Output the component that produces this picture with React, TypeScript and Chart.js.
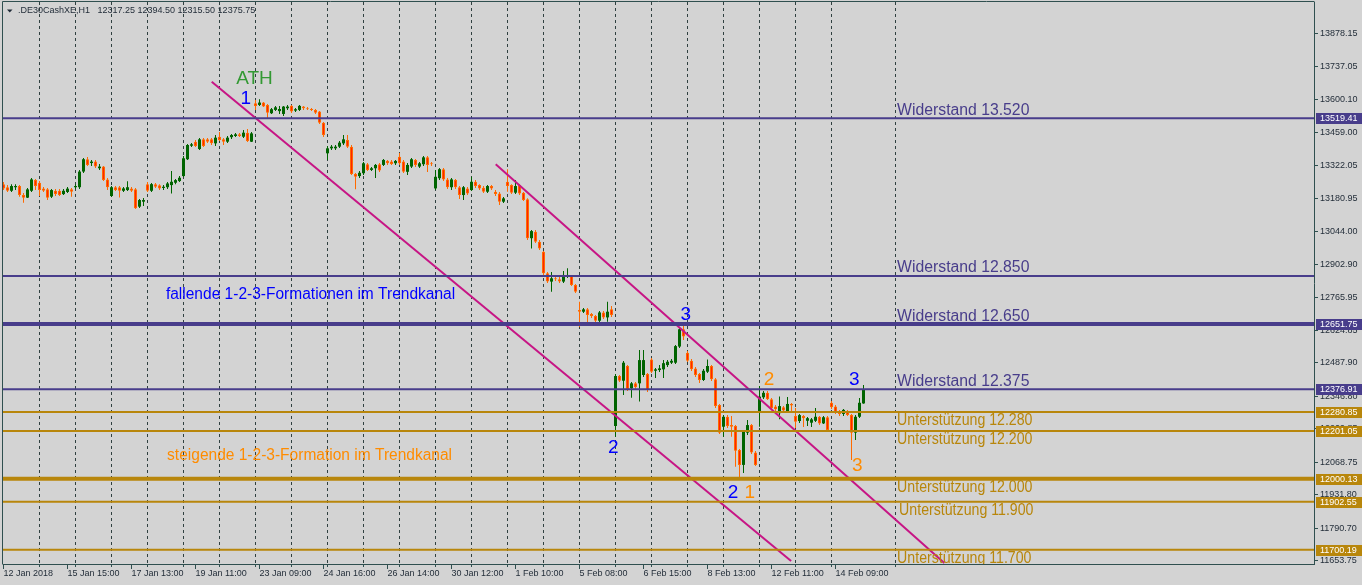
import React, { useEffect, useRef } from 'react';
import { Chart, registerables } from 'chart.js';

Chart.register(...registerables);

// ---------------- data ----------------
const OPEN = [
  13242, 13229, 13214, 13229, 13234, 13196, 13185, 13214, 13259, 13248,
  13224, 13220, 13189, 13214, 13214, 13200, 13209, 13220, 13229, 13229,
  13295, 13347, 13331, 13337, 13309, 13316, 13262, 13192, 13229, 13229,
  13214, 13217, 13224, 13220, 13147, 13168, 13242, 13214, 13242, 13237,
  13226, 13229, 13238, 13248, 13255, 13276, 13347, 13404, 13421, 13390,
  13431, 13431, 13431, 13414, 13442, 13431, 13421, 13440, 13445, 13452,
  13442, 13459, 13421, 13583, 13576, 13586, 13576, 13541, 13555, 13550,
  13538, 13562, 13573, 13552, 13555, 13569, 13562, 13558, 13555, 13548,
  13501, 13372, 13393, 13393, 13400, 13414, 13428, 13400, 13285, 13276,
  13288, 13326, 13302, 13309, 13326, 13323, 13341, 13337, 13330, 13358,
  13337, 13294, 13316, 13344, 13316, 13326, 13355, 13330, 13224, 13267,
  13305, 13262, 13229, 13259, 13229, 13196, 13224, 13217, 13252, 13238,
  13227, 13210, 13234, 13210, 13203, 13168, 13252, 13238, 13206, 13238,
  13206, 13178, 13014, 13041, 12999, 12957, 12866, 12831, 12845, 12841,
  12831, 12852, 12855, 12817, 12711, 12704, 12714, 12694, 12686, 12666,
  12701, 12680, 12714, 12222, 12433, 12413, 12475, 12381, 12402, 12402,
  12437, 12441, 12503, 12455, 12458, 12461, 12479, 12489, 12489, 12557,
  12630, 12531, 12497, 12465, 12441, 12416, 12451, 12475, 12419, 12311,
  12219, 12261, 12226, 12222, 12121, 12058, 12194, 12226, 12110, 12278,
  12343, 12362, 12335, 12304, 12276, 12301, 12282, 12315, 12264, 12243,
  12264, 12244, 12236, 12244, 12261, 12233, 12259, 12320, 12304, 12282,
  12273, 12282, 12268, 12194, 12261, 12317.25,
];
const HIGH = [
  13251, 13238, 13242, 13242, 13238, 13205, 13226, 13268, 13264, 13255,
  13230, 13226, 13221, 13221, 13221, 13221, 13230, 13226, 13242, 13302,
  13352, 13356, 13344, 13344, 13327, 13318, 13268, 13234, 13234, 13234,
  13230, 13254, 13230, 13226, 13179, 13184, 13251, 13247, 13247, 13242,
  13238, 13251, 13297, 13264, 13276, 13361, 13411, 13415, 13428, 13437,
  13437, 13437, 13437, 13449, 13462, 13437, 13445, 13453, 13458, 13458,
  13470, 13475, 13462, 13597, 13600, 13588, 13580, 13563, 13572, 13572,
  13572, 13576, 13576, 13563, 13576, 13572, 13567, 13563, 13559, 13550,
  13504, 13403, 13407, 13407, 13424, 13449, 13449, 13407, 13289, 13297,
  13335, 13331, 13314, 13327, 13331, 13348, 13344, 13344, 13344, 13373,
  13344, 13331, 13352, 13348, 13335, 13361, 13361, 13335, 13302, 13310,
  13310, 13268, 13268, 13264, 13234, 13234, 13230, 13273, 13259, 13242,
  13234, 13238, 13238, 13217, 13209, 13188, 13305, 13242, 13259, 13242,
  13209, 13183, 13049, 13049, 13006, 12960, 12871, 12871, 12859, 12855,
  12876, 12887, 12859, 12821, 12746, 12720, 12720, 12699, 12690, 12707,
  12707, 12746, 12728, 12441, 12437, 12496, 12479, 12408, 12408, 12543,
  12543, 12446, 12509, 12467, 12479, 12500, 12500, 12505, 12564, 12635,
  12658, 12538, 12505, 12471, 12446, 12462, 12503, 12479, 12425, 12315,
  12268, 12268, 12264, 12226, 12125, 12205, 12247, 12231, 12117, 12391,
  12370, 12370, 12340, 12311, 12346, 12306, 12344, 12319, 12298, 12273,
  12268, 12260, 12256, 12298, 12264, 12264, 12264, 12328, 12311, 12290,
  12294, 12290, 12273, 12268, 12340, 12394.5,
];
const LOW = [
  13217, 13209, 13209, 13217, 13189, 13164, 13184, 13209, 13217, 13192,
  13209, 13175, 13184, 13192, 13192, 13196, 13205, 13189, 13221, 13221,
  13289, 13318, 13318, 13310, 13302, 13255, 13217, 13188, 13213, 13186,
  13209, 13213, 13209, 13137, 13141, 13150, 13209, 13209, 13226, 13217,
  13217, 13221, 13203, 13242, 13251, 13272, 13344, 13399, 13399, 13386,
  13399, 13415, 13407, 13403, 13424, 13407, 13415, 13432, 13441, 13441,
  13437, 13420, 13420, 13555, 13572, 13567, 13520, 13538, 13550, 13538,
  13529, 13555, 13542, 13546, 13550, 13555, 13555, 13550, 13538, 13496,
  13441, 13344, 13386, 13386, 13394, 13407, 13394, 13281, 13220, 13268,
  13281, 13297, 13297, 13268, 13293, 13318, 13323, 13323, 13323, 13323,
  13289, 13281, 13310, 13314, 13310, 13318, 13293, 13318, 13217, 13259,
  13255, 13221, 13217, 13221, 13179, 13175, 13196, 13213, 13226, 13217,
  13205, 13205, 13217, 13192, 13154, 13162, 13210, 13200, 13200, 13196,
  13171, 13006, 12971, 12994, 12964, 12859, 12825, 12788, 12834, 12825,
  12825, 12846, 12812, 12783, 12640, 12699, 12656, 12677, 12656, 12661,
  12673, 12662, 12682, 12177, 12408, 12353, 12370, 12341, 12378, 12325,
  12429, 12365, 12446, 12425, 12450, 12425, 12471, 12484, 12484, 12551,
  12585, 12492, 12454, 12429, 12403, 12412, 12446, 12412, 12298, 12188,
  12177, 12214, 12177, 12050, 12002, 12024, 12184, 12104, 12053, 12219,
  12336, 12332, 12290, 12281, 12250, 12281, 12277, 12277, 12214, 12235,
  12218, 12222, 12218, 12239, 12226, 12231, 12201, 12294, 12273, 12264,
  12264, 12264, 12079, 12163, 12256, 12315.5,
];
const CLOSE = [
  13224, 13214, 13234, 13234, 13196, 13185, 13220, 13262, 13234, 13217,
  13214, 13185, 13217, 13200, 13196, 13214, 13223, 13210, 13234, 13295,
  13347, 13323, 13337, 13316, 13316, 13259, 13229, 13229, 13217, 13214,
  13224, 13229, 13214, 13140, 13175, 13175, 13214, 13242, 13231, 13224,
  13231, 13245, 13252, 13259, 13269, 13351, 13407, 13410, 13403, 13431,
  13403, 13421, 13414, 13438, 13428, 13421, 13438, 13449, 13452, 13445,
  13459, 13424, 13456, 13572, 13586, 13569, 13543, 13558, 13566, 13559,
  13569, 13569, 13548, 13558, 13572, 13562, 13558, 13555, 13543, 13501,
  13449, 13393, 13400, 13400, 13417, 13431, 13400, 13285, 13273, 13290,
  13330, 13302, 13309, 13323, 13299, 13344, 13330, 13327, 13340, 13330,
  13294, 13323, 13347, 13323, 13330, 13355, 13323, 13326, 13273, 13305,
  13262, 13229, 13262, 13229, 13196, 13229, 13203, 13252, 13234, 13224,
  13210, 13234, 13224, 13200, 13168, 13182, 13234, 13206, 13234, 13203,
  13175, 13014, 13044, 12999, 12971, 12866, 12831, 12845, 12841, 12831,
  12859, 12859, 12817, 12788, 12704, 12714, 12690, 12686, 12666, 12701,
  12680, 12704, 12690, 12433, 12413, 12489, 12377, 12402, 12385, 12500,
  12500, 12374, 12451, 12461, 12465, 12487, 12493, 12497, 12559, 12630,
  12599, 12497, 12461, 12437, 12416, 12455, 12475, 12419, 12306, 12194,
  12261, 12222, 12219, 12118, 12058, 12198, 12226, 12110, 12058, 12346,
  12362, 12335, 12297, 12293, 12306, 12287, 12315, 12308, 12240, 12268,
  12255, 12255, 12250, 12261, 12233, 12259, 12205, 12301, 12278, 12273,
  12290, 12268, 12194, 12261, 12320, 12375.75,
];

const Y_TICKS = [
  13878.15, 13737.05, 13600.1, 13459.0, 13322.05, 13180.95, 13044.0, 12902.9, 12765.95,
  12624.85, 12487.9, 12346.8, 12209.85, 12068.75, 11931.8, 11790.7, 11653.75,
];
const X_TICK_INDEX = [0, 16, 32, 48, 64, 80, 96, 112, 128, 144, 160, 176, 192, 208];
const X_TICK_LABELS = [
  '12 Jan 2018', '15 Jan 15:00', '17 Jan 13:00', '19 Jan 11:00', '23 Jan 09:00', '24 Jan 16:00',
  '26 Jan 14:00', '30 Jan 12:00', '1 Feb 10:00', '5 Feb 08:00', '6 Feb 15:00', '8 Feb 13:00',
  '12 Feb 11:00', '14 Feb 09:00',
];
const GRID_INDEX = [
  9, 18, 27, 36, 45, 54, 63, 72, 81, 90, 99, 108, 117, 126, 135, 144, 153, 162, 171, 180,
  189, 198, 207, 223,
];

const LEVEL_VALUES = [13519.41, 12855, 12651.75, 12376.91, 12280.85, 12201.05, 12000.13, 11902.55, 11700.19];
const LEVEL_LABELS = [
  'Widerstand 13.520', 'Widerstand 12.850', 'Widerstand 12.650', 'Widerstand 12.375',
  'Unterstützung 12.280', 'Unterstützung 12.200', 'Unterstützung 12.000', 'Unterstützung 11.900',
  'Unterstützung 11.700',
];
const LEVEL_IS_SUPPORT = [false, false, false, false, true, true, true, true, true];
const LEVEL_HAS_TAG = [true, false, true, true, true, true, true, true, true];
const LEVEL_LABEL_X = [223.4, 223.4, 223.4, 223.4, 223.4, 223.4, 223.4, 223.9, 223.4];

const TREND_FROM_X = [52.05, 123.05];
const TREND_FROM_Y = [13674.0, 13325.6];
const TREND_TO_X = [196.9, 235.2];
const TREND_TO_Y = [11652.8, 11644.3];

const MARK_TEXT = ['ATH', '1', '3', '2', '2', '1', '2', '3', '3'];
const MARK_X = [62.75, 60.6, 170.55, 152.45, 182.4, 186.6, 191.4, 212.7, 213.45];
const MARK_Y = [13666.4, 13582.0, 12668.6, 12106.1, 11919.3, 11919.3, 12394.5, 12394.5, 12031.9];
const MARK_KIND = ['ath', 'down', 'down', 'down', 'down', 'up', 'up', 'down', 'up'];

const NOTE_TEXT = ['fallende 1-2-3-Formationen im Trendkanal', 'steigende 1-2-3-Formation im Trendkanal'];
const NOTE_X = [40.6, 40.9];
const NOTE_Y = [12756.4, 12078.7];
const NOTE_KIND = ['down', 'up'];

const TITLE_NAME = '.DE30CashXE,H1';
const TITLE_VALUES = [12317.25, 12394.5, 12315.5, 12375.75];

// ---------------- styles ----------------
const X_MIN = -0.125;
const X_MAX = 327.625;
const Y_MIN = 11640.1;
const Y_MAX = 14010.1;
const BG = '#d3d3d3';
const FRAME = '#2f4f4f';
const GRID = '#304040';
const TEXT = '#1f2a36';
const BULL = '#006400';
const BEAR_FILL = '#ff2400';
const BEAR_EDGE = '#ff6a00';
const RES = '#483d8b';
const SUP = '#b8860b';
const TREND = '#c71585';
const BLUE = '#0000ff';
const ORANGE = '#ff8c00';
const ATH_GREEN = '#339933';
const FONT = '"Liberation Sans", Arial, sans-serif';
const THICK_LEVEL = [false, false, true, false, false, false, true, false, false];

const isBull = (i: number) => CLOSE[i] >= OPEN[i];

const mt4Plugin = {
  id: 'mt4Decor',
  beforeDraw(chart: any) {
    const { ctx } = chart;
    ctx.save();
    ctx.fillStyle = BG;
    ctx.fillRect(0, 0, chart.width, chart.height);
    ctx.restore();
  },
  afterDatasetsDraw(chart: any) {
    const { ctx, chartArea: a } = chart;
    const xs = chart.scales.x;
    const ys = chart.scales.y;
    ctx.save();
    ctx.beginPath();
    ctx.rect(a.left, a.top, a.right - a.left, a.bottom - a.top);
    ctx.clip();
    ctx.textBaseline = 'alphabetic';
    ctx.textAlign = 'left';
    ctx.font = `16px ${FONT}`;
    LEVEL_LABELS.forEach((t, i) => {
      const py = ys.getPixelForValue(LEVEL_VALUES[i]);
      const px = xs.getPixelForValue(LEVEL_LABEL_X[i]);
      const sup = LEVEL_IS_SUPPORT[i];
      ctx.fillStyle = sup ? SUP : RES;
      const w = ctx.measureText(t).width;
      ctx.fillText(t, px, sup ? py + 13 : py - 3.5, w * (sup ? 0.885 : 0.985));
    });
    NOTE_TEXT.forEach((t, i) => {
      ctx.fillStyle = NOTE_KIND[i] === 'down' ? BLUE : ORANGE;
      const w = ctx.measureText(t).width;
      ctx.fillText(t, xs.getPixelForValue(NOTE_X[i]), ys.getPixelForValue(NOTE_Y[i]), w * 0.97);
    });
    ctx.font = `19px ${FONT}`;
    ctx.textAlign = 'center';
    MARK_TEXT.forEach((t, i) => {
      const k = MARK_KIND[i];
      ctx.fillStyle = k === 'ath' ? ATH_GREEN : k === 'down' ? BLUE : ORANGE;
      ctx.fillText(t, xs.getPixelForValue(MARK_X[i]), ys.getPixelForValue(MARK_Y[i]));
    });
    ctx.restore();
  },
  afterDraw(chart: any) {
    const { ctx, chartArea: a } = chart;
    const ys = chart.scales.y;
    ctx.save();
    // frame (left + top)
    ctx.strokeStyle = FRAME;
    ctx.lineWidth = 1;
    ctx.beginPath();
    ctx.moveTo(a.left - 0.5, a.bottom + 0.5);
    ctx.lineTo(a.left - 0.5, a.top - 0.5);
    ctx.lineTo(a.right + 0.5, a.top - 0.5);
    ctx.stroke();
    // price tags on the axis
    ctx.font = `9px ${FONT}`;
    ctx.textBaseline = 'middle';
    ctx.textAlign = 'left';
    LEVEL_VALUES.forEach((v, i) => {
      if (!LEVEL_HAS_TAG[i]) return;
      const py = Math.round(ys.getPixelForValue(v));
      ctx.fillStyle = LEVEL_IS_SUPPORT[i] ? SUP : RES;
      ctx.fillRect(a.right + 2, py - 5, chart.width - a.right - 2, 11);
      ctx.fillStyle = '#ffffff';
      ctx.fillText(v.toFixed(2), a.right + 6, py + 0.5);
    });
    // title
    ctx.fillStyle = TEXT;
    ctx.beginPath();
    ctx.moveTo(7, 9.5);
    ctx.lineTo(12.5, 9.5);
    ctx.lineTo(9.75, 12.5);
    ctx.closePath();
    ctx.fill();
    ctx.fillText(TITLE_NAME, 18, 11);
    ctx.fillText(TITLE_VALUES.map((v) => v.toFixed(2)).join(' '), 97.5, 11);
    ctx.restore();
  },
};

export default function App() {
  const ref = useRef<HTMLCanvasElement>(null);

  useEffect(() => {
    document.body.style.margin = '0';
    document.body.style.background = BG;
    const idx = OPEN.map((_, i) => i);

    const levelSets = LEVEL_VALUES.map((v, i) => ({
      type: 'line' as const,
      data: [{ x: X_MIN, y: v }, { x: X_MAX, y: v }],
      borderColor: LEVEL_IS_SUPPORT[i] ? SUP : RES,
      borderWidth: THICK_LEVEL[i] ? 4 : 2,
      pointRadius: 0,
      order: 0,
    }));
    const trendSets = TREND_FROM_X.map((x0, i) => ({
      type: 'line' as const,
      data: [{ x: x0, y: TREND_FROM_Y[i] }, { x: TREND_TO_X[i], y: TREND_TO_Y[i] }],
      borderColor: TREND,
      borderWidth: 2,
      pointRadius: 0,
      order: 0,
    }));

    const chart = new Chart(ref.current as HTMLCanvasElement, {
      type: 'bar',
      data: {
        datasets: [
          ...levelSets,
          ...trendSets,
          {
            type: 'bar',
            data: idx.map((i) => ({ x: i, y: [OPEN[i], CLOSE[i]] })) as any,
            barThickness: 3,
            grouped: false,
            minBarLength: 1,
            inflateAmount: 0,
            borderSkipped: false,
            backgroundColor: (c: any) => (isBull(c.dataIndex ?? 0) ? BULL : BEAR_FILL),
            borderColor: (c: any) => (isBull(c.dataIndex ?? 0) ? BULL : BEAR_EDGE),
            borderWidth: (c: any) => (isBull(c.dataIndex ?? 0) ? 0 : 1),
            order: 1,
          } as any,
          {
            type: 'bar',
            data: idx.map((i) => ({ x: i, y: [LOW[i], HIGH[i]] })) as any,
            barThickness: 1,
            grouped: false,
            minBarLength: 1,
            inflateAmount: 0,
            borderWidth: 0,
            backgroundColor: (c: any) => (isBull(c.dataIndex ?? 0) ? BULL : BEAR_EDGE),
            order: 2,
          } as any,
        ],
      },
      options: {
        responsive: false,
        maintainAspectRatio: false,
        animation: false,
        devicePixelRatio: 1,
        events: [],
        layout: { padding: { left: 3, top: 2, right: 0, bottom: 0 } },
        plugins: { legend: { display: false }, tooltip: { enabled: false } },
        scales: {
          x2: {
            type: 'linear',
            position: 'bottom',
            weight: -1,
            min: X_MIN,
            max: X_MAX,
            offset: false,
            afterBuildTicks: (s: any) => {
              s.ticks = GRID_INDEX.map((v) => ({ value: v }));
            },
            afterFit: (s: any) => {
              s.height = 0;
              s.paddingLeft = 0;
              s.paddingRight = 0;
            },
            ticks: { display: false, autoSkip: false },
            grid: {
              offset: false,
              drawOnChartArea: true,
              drawTicks: true,
              tickLength: 3,
              color: GRID,
              tickColor: FRAME,
              lineWidth: 1,
            },
            border: { display: false, dash: [3, 3] },
          },
          x: {
            type: 'linear',
            position: 'bottom',
            weight: 0,
            min: X_MIN,
            max: X_MAX,
            offset: false,
            afterBuildTicks: (s: any) => {
              s.ticks = X_TICK_INDEX.map((v) => ({ value: v }));
            },
            afterFit: (s: any) => {
              s.height = 21;
              s.paddingLeft = 0;
              s.paddingRight = 0;
            },
            ticks: {
              autoSkip: false,
              maxRotation: 0,
              minRotation: 0,
              align: 'start',
              padding: -1,
              color: TEXT,
              font: { family: FONT, size: 9 },
              callback: (_v: any, i: number) => X_TICK_LABELS[i] ?? '',
            },
            grid: {
              offset: false,
              drawOnChartArea: false,
              drawTicks: true,
              tickLength: 5,
              tickColor: FRAME,
            },
            border: { display: true, color: FRAME, width: 1 },
          },
          y: {
            type: 'linear',
            position: 'right',
            min: Y_MIN,
            max: Y_MAX,
            afterBuildTicks: (s: any) => {
              s.ticks = Y_TICKS.map((v) => ({ value: v }));
            },
            afterFit: (s: any) => {
              s.width = 48;
              s.paddingTop = 0;
              s.paddingBottom = 0;
            },
            ticks: {
              autoSkip: false,
              padding: 2,
              color: TEXT,
              font: { family: FONT, size: 9 },
              callback: (v: any) => Number(v).toFixed(2),
            },
            grid: { drawOnChartArea: false, drawTicks: true, tickLength: 4, tickColor: FRAME },
            border: { display: true, color: FRAME, width: 1 },
          },
        },
      } as any,
      plugins: [mt4Plugin],
    });
    return () => chart.destroy();
  }, []);

  return (
    <canvas
      ref={ref}
      width={1362}
      height={585}
      style={{ display: 'block', width: 1362, height: 585 }}
    />
  );
}
